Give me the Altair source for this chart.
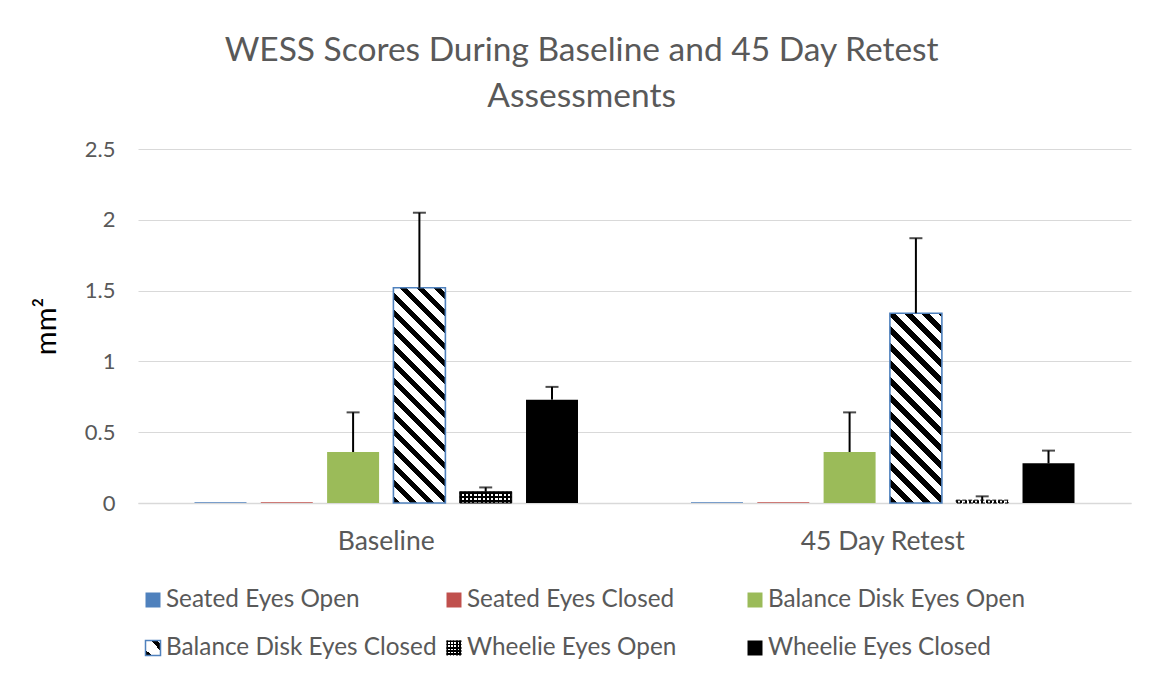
import altair as alt
import pandas as pd

# ---------------- data ----------------
periods = ["Baseline", "45 Day Retest"]
series = ["Seated Eyes Open", "Seated Eyes Closed", "Balance Disk Eyes Open",
          "Balance Disk Eyes Closed", "Wheelie Eyes Open", "Wheelie Eyes Closed"]
baseline_vals = [0.006, 0.006, 0.36, 1.52, 0.08, 0.73]
baseline_err = [0.0, 0.0, 0.28, 0.53, 0.03, 0.09]
retest_vals = [0.006, 0.006, 0.36, 1.34, 0.02, 0.28]
retest_err = [0.0, 0.0, 0.28, 0.53, 0.027, 0.09]
legend_row = [0, 0, 0, 1, 1, 1]
legend_col = [0, 1, 2, 0, 1, 2]

rows = []
for p, vals, errs in [(periods[0], baseline_vals, baseline_err),
                      (periods[1], retest_vals, retest_err)]:
    for s, v, e in zip(series, vals, errs):
        rows.append({"period": p, "series": s, "value": v, "err": e, "upper": v + e})
df = pd.DataFrame(rows)
leg = pd.DataFrame({"series": series, "row": legend_row, "col": legend_col})

# ---------------- layout / style ----------------
FONT = "Lato"
GREY = "#595959"
W, H = 993, 354
YMAX = 2.5
PI_X, PO_X = 0.2276, 0.1138
PI_O = 0.216
step_x = W / (len(periods) - PI_X + 2 * PO_X)
band_x = step_x * (1 - PI_X)
step_o = band_x / (len(series) - PI_O)
BAR_W = step_o * (1 - PI_O)

solid_colors = {"Seated Eyes Open": "#4f81bd", "Seated Eyes Closed": "#c0504d",
                "Balance Disk Eyes Open": "#9bbb59", "Wheelie Eyes Closed": "#000000"}


def stops(n, frac, c_on, c_off):
    out = []
    for i in range(int(n) + 1):
        a = i / n
        b = min((i + frac) / n, 1.0)
        c = min((i + 1) / n, 1.0)
        if a >= 1:
            break
        out += [{"offset": a, "color": c_on}, {"offset": b, "color": c_on},
                {"offset": b, "color": c_off}, {"offset": c, "color": c_off}]
    return out


def diag_gradient(w, h, period=17.0, frac=0.42):
    k = (w + h) / (w * w + h * h)
    n = (w + h) / period
    return {"gradient": "linear", "x1": 0, "y1": 1, "x2": k * w, "y2": 1 - k * h,
            "stops": stops(n, frac, "#000000", "#ffffff")}


def lin_gradient(length, vertical, period=4.0, frac=0.5, color="#000000"):
    n = length / period
    g = {"gradient": "linear", "stops": stops(n, frac, color, "rgba(255,255,255,0)")}
    if vertical:
        g.update({"x1": 0, "y1": 0, "x2": 0, "y2": 1})
    else:
        g.update({"x1": 0, "y1": 0, "x2": 1, "y2": 0})
    return g


x_enc = alt.X("period:N", sort=periods,
              scale=alt.Scale(domain=periods, paddingInner=PI_X, paddingOuter=PO_X),
              axis=alt.Axis(title=None, labelAngle=0, labelFontSize=26.5, labelColor=GREY,
                            labelFont=FONT, labelPadding=25, ticks=False,
                            domainColor="#d9d9d9", domainWidth=1.5, grid=False))
xo_enc = alt.XOffset("series:N", sort=series,
                     scale=alt.Scale(domain=series, paddingInner=PI_O, paddingOuter=0))
y_scale = alt.Scale(domain=[0, YMAX], nice=False)
y_enc = alt.Y("value:Q", scale=y_scale,
              axis=alt.Axis(title="mm²", values=[0, 0.5, 1, 1.5, 2, 2.5], format="~g",
                            domain=False, ticks=False, labelFontSize=22, labelColor=GREY,
                            labelFont=FONT, labelPadding=23, titleFont=FONT,
                            titleFontSize=29, titleFontWeight="normal", titleColor="#000000",
                            titlePadding=23, gridColor="#d9d9d9", gridWidth=1.2))

base = alt.Chart(df)

solid = base.transform_filter(
    alt.FieldOneOfPredicate(field="series", oneOf=list(solid_colors.keys()))
).mark_bar().encode(
    x=x_enc, xOffset=xo_enc, y=y_enc,
    color=alt.Color("series:N", legend=None,
                    scale=alt.Scale(domain=list(solid_colors.keys()),
                                    range=list(solid_colors.values()))),
)

layers = [solid]

# Balance Disk Eyes Closed: diagonal hatch, one layer per bar (gradient in bar box)
for p, v in [(periods[0], baseline_vals[3]), (periods[1], retest_vals[3])]:
    h = v / YMAX * H
    layers.append(
        base.transform_filter(
            (alt.datum.series == series[3]) & (alt.datum.period == p)
        ).mark_bar(fill=diag_gradient(BAR_W, h), stroke="#4f81bd", strokeWidth=1.6)
        .encode(x=x_enc, xOffset=xo_enc, y=y_enc)
    )

# Wheelie Eyes Open: small grid pattern
for p, v in [(periods[0], baseline_vals[4]), (periods[1], retest_vals[4])]:
    h = v / YMAX * H
    sel = base.transform_filter((alt.datum.series == series[4]) & (alt.datum.period == p))
    layers.append(sel.mark_bar(fill="#ffffff").encode(x=x_enc, xOffset=xo_enc, y=y_enc))
    layers.append(sel.mark_bar(fill=lin_gradient(BAR_W, False, 4.2, 0.45))
                  .encode(x=x_enc, xOffset=xo_enc, y=y_enc))
    if h > 5:
        layers.append(sel.mark_bar(fill=lin_gradient(h, True, 4.2, 0.45))
                      .encode(x=x_enc, xOffset=xo_enc, y=y_enc))
    layers.append(sel.mark_bar(fill="rgba(0,0,0,0)", stroke="#000000", strokeWidth=1,
                               strokeDash=[4, 2] if h < 5 else [1, 0])
                  .encode(x=x_enc, xOffset=xo_enc, y=y_enc))

err = base.transform_filter(alt.datum.err > 0)
layers.append(err.mark_rule(color="#000000", strokeWidth=2).encode(
    x=x_enc, xOffset=xo_enc, y=alt.Y("value:Q", scale=y_scale), y2="upper:Q"))
layers.append(err.mark_tick(color="#000000", thickness=2, size=13).encode(
    x=x_enc, xOffset=xo_enc, y=alt.Y("upper:Q", scale=y_scale)))

main = alt.layer(*layers).properties(width=W, height=H)

# ---------------- legend (manual, to show fills) ----------------
LX = alt.Scale(domain=[0, 2], range=[15, 617])
LY = alt.Scale(domain=[-0.5, 1.5], range=[0, 96])
lx = alt.X("col:Q", scale=LX, axis=None)
ly = alt.Y("row:Q", scale=LY, axis=None)
lbase = alt.Chart(leg)
SYM = 15
leg_layers = [
    lbase.transform_filter(
        alt.FieldOneOfPredicate(field="series", oneOf=list(solid_colors.keys()))
    ).mark_square(size=SYM * SYM, opacity=1).encode(
        x=lx, y=ly,
        color=alt.Color("series:N", legend=None,
                        scale=alt.Scale(domain=list(solid_colors.keys()),
                                        range=list(solid_colors.values())))),
    lbase.transform_filter(alt.datum.series == series[3]).mark_square(
        size=SYM * SYM, opacity=1, fill=diag_gradient(SYM, SYM, 20, 0.3),
        stroke="#4f81bd", strokeWidth=1.5).encode(x=lx, y=ly),
    lbase.transform_filter(alt.datum.series == series[4]).mark_square(
        size=SYM * SYM, opacity=1, fill="#ffffff").encode(x=lx, y=ly),
    lbase.transform_filter(alt.datum.series == series[4]).mark_square(
        size=SYM * SYM, opacity=1, fill=lin_gradient(SYM, False, 3.2, 0.5)).encode(x=lx, y=ly),
    lbase.transform_filter(alt.datum.series == series[4]).mark_square(
        size=SYM * SYM, opacity=1, fill=lin_gradient(SYM, True, 3.2, 0.5)).encode(x=lx, y=ly),
    lbase.mark_text(align="left", baseline="middle", dx=13, fontSize=24.3, font=FONT,
                    color=GREY).encode(x=lx, y=ly, text="series:N"),
]
legend = alt.layer(*leg_layers).properties(width=W, height=96)

chart = alt.vconcat(main, legend, spacing=21).properties(
    title=alt.Title(["WESS Scores During Baseline and 45 Day Retest", "Assessments"],
                    fontSize=33.5, font=FONT, fontWeight="normal", color=GREY,
                    anchor="middle", lineHeight=46, offset=24),
    padding={"left": 24, "top": 25, "right": 10, "bottom": 5},
).configure(background="#ffffff").configure_view(strokeWidth=0)

chart.save("out.html", embed_options={"renderer": "svg", "actions": False})
